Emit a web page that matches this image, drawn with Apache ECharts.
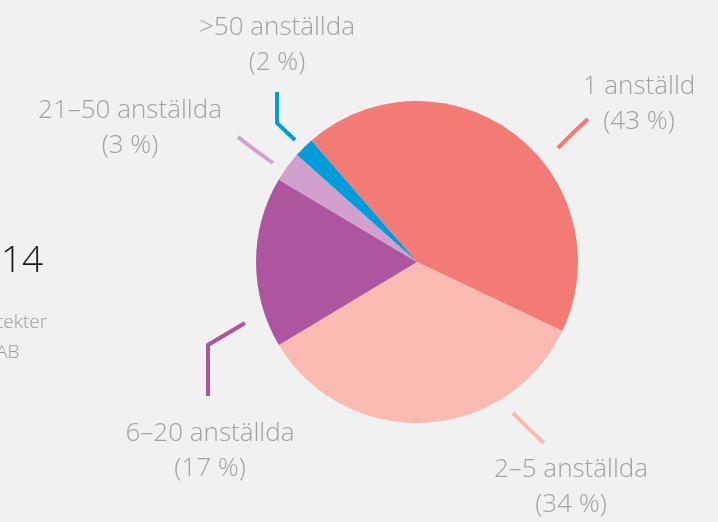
<!DOCTYPE html>
<html>
<head>
<meta charset="utf-8">
<script src="https://cdn.jsdelivr.net/npm/echarts@6/dist/echarts.min.js"></script>
<style>
  html, body { margin: 0; padding: 0; background: #f1f1f1; }
  #chart { width: 718px; height: 522px; }
</style>
</head>
<body>
<div id="chart"></div>
<script>
// storlek på kontor (antal anställda) och andel i procent
var categories = ['1 anställd', '2–5 anställda', '6–20 anställda', '21–50 anställda', '>50 anställda'];
var shares = [43, 34, 17, 3, 2];
var colors = ['#f27b75', '#f9bbb1', '#ae559f', '#d1a0cc', '#009dda'];

// var etiketterna sitter (mitten av textblocket) och deras linjer
var labelPos = [[639, 104], [571, 487], [210, 451], [130, 128], [277, 45]];
var linePts = [
    [[558, 148], [573, 133], [588, 119]],
    [[513, 413], [528, 428], [544, 443]],
    [[245, 323], [208, 345], [208, 396]],
    [[273, 163], [255, 150], [238, 137]],
    [[295, 140], [277, 123], [277, 92]]
];

var chart = echarts.init(document.getElementById('chart'));

var seriesData = [];
for (var i = 0; i < categories.length; i++) {
    seriesData.push({
        name: categories[i],
        value: shares[i],
        itemStyle: { color: colors[i] },
        labelLine: { lineStyle: { color: colors[i] } }
    });
}

var option = {
    backgroundColor: '#f1f1f1',
    animation: false,
    graphic: [
        { type: 'text', left: 1, top: 243, style: { text: '14', font: '300 37px "Open Sans"', fill: '#1a1a1a' } },
        { type: 'text', left: -3, top: 313, style: { text: 'tekter', font: '300 19px "Open Sans"', fill: '#9c9c9c' } },
        { type: 'text', left: -4, top: 343, style: { text: 'AB', font: '300 19px "Open Sans"', fill: '#9c9c9c' } }
    ],
    series: [{
        type: 'pie',
        silent: true,
        center: [417, 262],
        radius: 161,
        startAngle: 131,
        clockwise: true,
        data: seriesData,
        label: {
            show: true,
            formatter: '{b}\n({c} %)',
            fontFamily: 'Open Sans',
            fontWeight: 300,
            fontSize: 26,
            lineHeight: 35,
            color: '#9ea1a6',
            align: 'center'
        },
        labelLine: {
            show: true,
            lineStyle: { width: 4, cap: 'butt' }
        },
        labelLayout: function (params) {
            var p = labelPos[params.dataIndex];
            return {
                x: p[0],
                y: p[1],
                align: 'center',
                verticalAlign: 'middle',
                labelLinePoints: linePts[params.dataIndex]
            };
        }
    }]
};

chart.setOption(option);
window.onresize = chart.resize;
</script>
</body>
</html>
